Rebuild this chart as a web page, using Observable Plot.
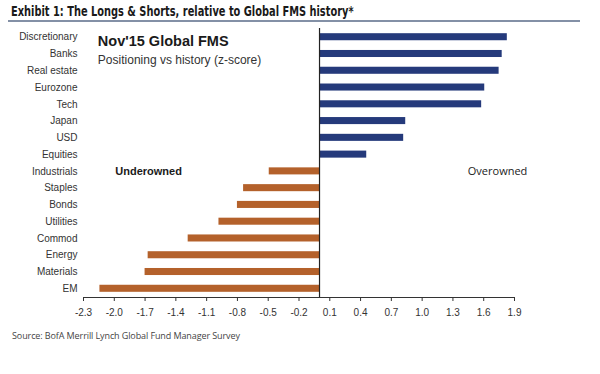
<!DOCTYPE html>
<html>
<head>
<meta charset="utf-8">
<script src="https://cdn.jsdelivr.net/npm/d3@7"></script>
<script src="https://cdn.jsdelivr.net/npm/@observablehq/plot@0.6"></script>
<style>
  html, body { margin: 0; padding: 0; background: #fff; }
  #wrap { width: 600px; height: 374px; position: relative; overflow: hidden; }
  #title {
    margin-left: 8px; width: 569px; height: 19px; padding-top: 1px;
    line-height: 19px; padding-left: 3px; box-sizing: content-box;
    border-bottom: 2px solid #8390a6; white-space: nowrap; overflow: visible;
  }
  #title span {
    display: inline-block; transform: scaleX(0.81); transform-origin: 0 50%;
    font-family: "DejaVu Sans Condensed", "Liberation Sans", sans-serif;
    font-weight: bold; font-size: 13.5px; color: #1a1a1a;
  }
  #source {
    padding-top: 8px; padding-left: 12px; line-height: 12px;
    font-family: "Open Sans", "Liberation Sans", sans-serif; font-size: 9px; color: #444;
    letter-spacing: -0.1px;
  }
  svg { display: block; }
</style>
</head>
<body>
<div id="wrap">
  <div id="title"><span>Exhibit 1: The Longs &amp; Shorts, relative to Global FMS history*</span></div>
  <div id="chart"></div>
  <div id="source">Source: BofA Merrill Lynch Global Fund Manager Survey</div>
</div>
<script>
const categories = ["Discretionary","Banks","Real estate","Eurozone","Tech","Japan","USD","Equities","Industrials","Staples","Bonds","Utilities","Commod","Energy","Materials","EM"];
const values = [1.83, 1.78, 1.75, 1.61, 1.58, 0.84, 0.82, 0.46, -0.49, -0.74, -0.80, -0.98, -1.28, -1.67, -1.70, -2.14];
const xTicks = [-2.3, -2.0, -1.7, -1.4, -1.1, -0.8, -0.5, -0.2, 0.1, 0.4, 0.7, 1.0, 1.3, 1.6, 1.9];
const annotations = ["Nov'15 Global FMS", "Positioning vs history (z-score)", "Underowned", "Overowned"];

const data = categories.map((c, i) => ({category: c, value: values[i]}));
const blue = "#253a7b", orange = "#b4612b";

const plot = Plot.plot({
  width: 600,
  height: 300,
  marginTop: 6,
  marginBottom: 25,
  marginLeft: 83,
  marginRight: 86,
  style: {fontFamily: "'Liberation Sans', Arial, sans-serif", fontSize: "10px", color: "#333", background: "white"},
  x: {domain: [-2.3, 1.9], ticks: xTicks, tickFormat: d => d.toFixed(1), tickSize: 4, tickPadding: 7, line: true, label: null},
  y: {domain: categories, paddingInner: 0.58, paddingOuter: 0.31, round: false, tickSize: 0, tickPadding: 6, label: null},
  marks: [
    Plot.barX(data, {filter: d => d.value >= 0, x: "value", y: "category", fill: blue}),
    Plot.barX(data, {filter: d => d.value < 0, x: "value", y: "category", fill: orange}),
    Plot.ruleX([0], {stroke: "#222", strokeWidth: 1.2}),
    Plot.text([annotations[0]], {x: -2.16, y: () => "Discretionary", dy: 4, text: d => d, textAnchor: "start", fontSize: 14.5, fontWeight: "bold", fill: "#1a1a1a"}),
    Plot.text([annotations[1]], {x: -2.16, y: () => "Banks", dy: 6, text: d => d, textAnchor: "start", fontSize: 12, fill: "#333"}),
    Plot.text([annotations[2]], {x: -1.99, y: () => "Industrials", text: d => d, textAnchor: "start", fontSize: 11, fontWeight: "bold", fill: "#1a1a1a"}),
    Plot.text([annotations[3]], {x: 1.735, y: () => "Industrials", text: d => d, textAnchor: "middle", fontSize: 11, fontFamily: "'Open Sans', sans-serif", fontWeight: 500, fill: "#222"})
  ]
});
document.getElementById("chart").appendChild(plot);
</script>
</body>
</html>
